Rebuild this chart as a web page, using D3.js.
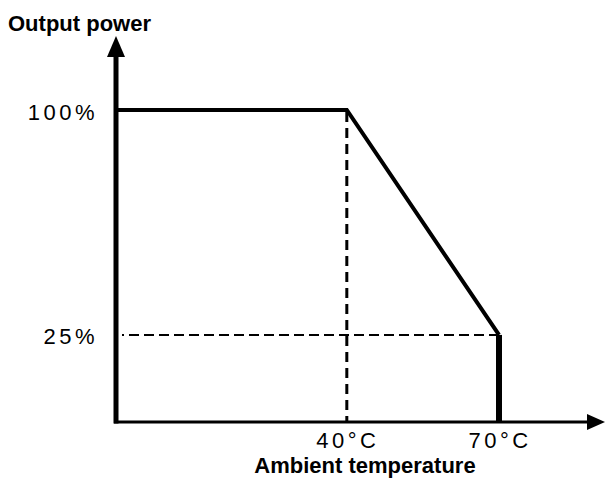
<!DOCTYPE html>
<html lang="en">
<head>
    <meta charset="UTF-8">
    <title>Output power derating</title>
    <script src="https://d3js.org/d3.v7.min.js"></script>
    <style>
        * {
            margin: 0;
            padding: 0;
            box-sizing: border-box;
        }

        body {
            background: #fff;
            overflow: hidden;
        }

        text {
            font-family: 'Liberation Sans', Arial, Helvetica, sans-serif;
            fill: #000;
        }

        .tick-label {
            font-size: 22px;
            letter-spacing: 3.5px;
        }

        .axis-title {
            font-size: 22px;
            font-weight: bold;
        }
    </style>
</head>
<body>
    <div id="chart"></div>

    <script>
        // temperature / power values
        const axisOrigin = { temp: -5.5, power: -3.7 };
        const tempTicks = [40, 70];
        const tempLabels = ['40°C', '70°C'];
        const powerTicks = [25, 100];
        const powerLabels = ['25%', '100%'];
        // derating curve (starts at the y axis, ends on the x axis)
        const curveTemp = [axisOrigin.temp, 40, 70, 70];
        const curvePower = [100, 100, 25, axisOrigin.power];

        const width = 605;
        const height = 479;

        const svg = d3.select('#chart')
            .append('svg')
            .attr('width', width)
            .attr('height', height);

        const x = d3.scaleLinear()
            .domain([axisOrigin.temp, 70])
            .range([116, 499]);

        const y = d3.scaleLinear()
            .domain([axisOrigin.power, 100])
            .range([421, 110]);

        const x0 = x(axisOrigin.temp);
        const y0 = y(axisOrigin.power);

        // dashed guide lines
        svg.append('line')
            .attr('x1', x(40)).attr('x2', x(40))
            .attr('y1', y(100) + 2).attr('y2', y0)
            .attr('stroke', '#000')
            .attr('stroke-width', 3)
            .attr('stroke-dasharray', '10,6');

        svg.append('line')
            .attr('x1', x(70)).attr('x2', x0 + 6)
            .attr('y1', y(25)).attr('y2', y(25))
            .attr('stroke', '#000')
            .attr('stroke-width', 2)
            .attr('stroke-dasharray', '10,5');

        // x axis with arrow
        svg.append('line')
            .attr('x1', x0 - 2).attr('x2', 590)
            .attr('y1', y0 + 1).attr('y2', y0 + 1)
            .attr('stroke', '#000')
            .attr('stroke-width', 3);

        svg.append('path')
            .attr('d', `M605,${y0 + 1} L587,${y0 - 7} L587,${y0 + 9} Z`)
            .attr('fill', '#000');

        // y axis with arrow
        svg.append('line')
            .attr('x1', x0).attr('x2', x0)
            .attr('y1', y0 + 2.5).attr('y2', 54)
            .attr('stroke', '#000')
            .attr('stroke-width', 5);

        svg.append('path')
            .attr('d', `M${x0},36 L${x0 - 9},57 L${x0 + 9},57 Z`)
            .attr('fill', '#000');

        // derating curve
        const pts = curveTemp.map((t, i) => [x(t), y(curvePower[i])]);

        svg.append('path')
            .attr('d', d3.line()(pts.slice(0, 3)))
            .attr('fill', 'none')
            .attr('stroke', '#000')
            .attr('stroke-width', 4)
            .attr('stroke-linejoin', 'miter');

        svg.append('path')
            .attr('d', d3.line()(pts.slice(2)))
            .attr('fill', 'none')
            .attr('stroke', '#000')
            .attr('stroke-width', 6);

        // tick labels
        svg.selectAll('.ylab')
            .data(powerTicks)
            .join('text')
            .attr('class', 'tick-label')
            .attr('x', 98)
            .attr('y', d => y(d) + 9.5)
            .attr('text-anchor', 'end')
            .text((d, i) => powerLabels[i]);

        svg.selectAll('.xlab')
            .data(tempTicks)
            .join('text')
            .attr('class', 'tick-label')
            .attr('x', d => x(d) + 1)
            .attr('y', 448)
            .attr('text-anchor', 'middle')
            .text((d, i) => tempLabels[i]);

        // axis titles
        svg.append('text')
            .attr('class', 'axis-title')
            .attr('x', 8)
            .attr('y', 31)
            .text('Output power');

        svg.append('text')
            .attr('class', 'axis-title')
            .attr('x', 365)
            .attr('y', 473)
            .attr('text-anchor', 'middle')
            .text('Ambient temperature');
    </script>
</body>
</html>
